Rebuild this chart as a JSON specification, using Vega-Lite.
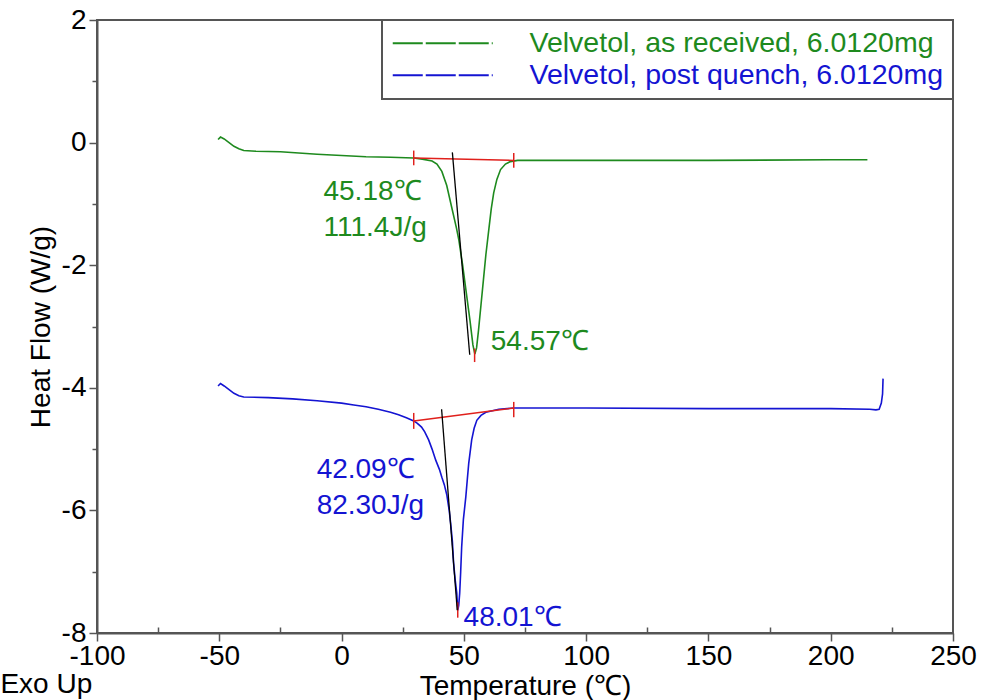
{
  "$schema": "https://vega.github.io/schema/vega-lite/v6.json",
  "width": 856,
  "height": 613,
  "autosize": "none",
  "padding": {"left": 97, "top": 20, "right": 28, "bottom": 67},
  "background": "white",
  "config": {
    "view": {"stroke": "#555555", "strokeWidth": 2},
    "font": "Liberation Sans",
    "legend": {"strokeWidth": 2},
    "axis": {
      "domainColor": "#555555", "domainWidth": 2, "tickColor": "#555555", "tickWidth": 1.5,
      "grid": false, "labelFont": "Liberation Sans", "labelFontSize": 28, "labelColor": "#000000",
      "titleFont": "Liberation Sans", "titleFontSize": 28, "titleFontWeight": "normal", "titleColor": "#000000"
    }
  },
  "datasets": {
    "curves": [
      {"series": "Velvetol, as received, 6.0120mg", "t": -50.5, "hf": 0.05},
      {"series": "Velvetol, as received, 6.0120mg", "t": -49.5, "hf": 0.09},
      {"series": "Velvetol, as received, 6.0120mg", "t": -48, "hf": 0.06},
      {"series": "Velvetol, as received, 6.0120mg", "t": -46, "hf": 0.0},
      {"series": "Velvetol, as received, 6.0120mg", "t": -44, "hf": -0.06},
      {"series": "Velvetol, as received, 6.0120mg", "t": -42, "hf": -0.1},
      {"series": "Velvetol, as received, 6.0120mg", "t": -40, "hf": -0.13},
      {"series": "Velvetol, as received, 6.0120mg", "t": -35, "hf": -0.14},
      {"series": "Velvetol, as received, 6.0120mg", "t": -25, "hf": -0.15},
      {"series": "Velvetol, as received, 6.0120mg", "t": -10, "hf": -0.19},
      {"series": "Velvetol, as received, 6.0120mg", "t": 0, "hf": -0.21},
      {"series": "Velvetol, as received, 6.0120mg", "t": 10, "hf": -0.23},
      {"series": "Velvetol, as received, 6.0120mg", "t": 20, "hf": -0.24},
      {"series": "Velvetol, as received, 6.0120mg", "t": 29.5, "hf": -0.25},
      {"series": "Velvetol, as received, 6.0120mg", "t": 33, "hf": -0.27},
      {"series": "Velvetol, as received, 6.0120mg", "t": 37, "hf": -0.3},
      {"series": "Velvetol, as received, 6.0120mg", "t": 39, "hf": -0.35},
      {"series": "Velvetol, as received, 6.0120mg", "t": 41, "hf": -0.47},
      {"series": "Velvetol, as received, 6.0120mg", "t": 43, "hf": -0.7},
      {"series": "Velvetol, as received, 6.0120mg", "t": 45, "hf": -1.05},
      {"series": "Velvetol, as received, 6.0120mg", "t": 47, "hf": -1.4},
      {"series": "Velvetol, as received, 6.0120mg", "t": 48, "hf": -1.6},
      {"series": "Velvetol, as received, 6.0120mg", "t": 49.5, "hf": -2.0},
      {"series": "Velvetol, as received, 6.0120mg", "t": 51, "hf": -2.45},
      {"series": "Velvetol, as received, 6.0120mg", "t": 52.5, "hf": -2.9},
      {"series": "Velvetol, as received, 6.0120mg", "t": 53.7, "hf": -3.3},
      {"series": "Velvetol, as received, 6.0120mg", "t": 54.5, "hf": -3.45},
      {"series": "Velvetol, as received, 6.0120mg", "t": 55.2, "hf": -3.35},
      {"series": "Velvetol, as received, 6.0120mg", "t": 56, "hf": -3.06},
      {"series": "Velvetol, as received, 6.0120mg", "t": 57, "hf": -2.65},
      {"series": "Velvetol, as received, 6.0120mg", "t": 58, "hf": -2.24},
      {"series": "Velvetol, as received, 6.0120mg", "t": 59, "hf": -1.83},
      {"series": "Velvetol, as received, 6.0120mg", "t": 60.2, "hf": -1.42},
      {"series": "Velvetol, as received, 6.0120mg", "t": 61.2, "hf": -1.08},
      {"series": "Velvetol, as received, 6.0120mg", "t": 62.2, "hf": -0.82},
      {"series": "Velvetol, as received, 6.0120mg", "t": 63.5, "hf": -0.6},
      {"series": "Velvetol, as received, 6.0120mg", "t": 65, "hf": -0.44},
      {"series": "Velvetol, as received, 6.0120mg", "t": 67, "hf": -0.35},
      {"series": "Velvetol, as received, 6.0120mg", "t": 69, "hf": -0.31},
      {"series": "Velvetol, as received, 6.0120mg", "t": 72, "hf": -0.29},
      {"series": "Velvetol, as received, 6.0120mg", "t": 80, "hf": -0.29},
      {"series": "Velvetol, as received, 6.0120mg", "t": 100, "hf": -0.29},
      {"series": "Velvetol, as received, 6.0120mg", "t": 150, "hf": -0.29},
      {"series": "Velvetol, as received, 6.0120mg", "t": 200, "hf": -0.28},
      {"series": "Velvetol, as received, 6.0120mg", "t": 215, "hf": -0.28},
      {"series": "Velvetol, post quench, 6.0120mg", "t": -50.5, "hf": -3.97},
      {"series": "Velvetol, post quench, 6.0120mg", "t": -49.5, "hf": -3.93},
      {"series": "Velvetol, post quench, 6.0120mg", "t": -48, "hf": -3.97},
      {"series": "Velvetol, post quench, 6.0120mg", "t": -46, "hf": -4.03},
      {"series": "Velvetol, post quench, 6.0120mg", "t": -44, "hf": -4.09},
      {"series": "Velvetol, post quench, 6.0120mg", "t": -42, "hf": -4.13},
      {"series": "Velvetol, post quench, 6.0120mg", "t": -40, "hf": -4.15},
      {"series": "Velvetol, post quench, 6.0120mg", "t": -30, "hf": -4.16},
      {"series": "Velvetol, post quench, 6.0120mg", "t": -20, "hf": -4.18},
      {"series": "Velvetol, post quench, 6.0120mg", "t": -10, "hf": -4.21},
      {"series": "Velvetol, post quench, 6.0120mg", "t": 0, "hf": -4.25},
      {"series": "Velvetol, post quench, 6.0120mg", "t": 5, "hf": -4.28},
      {"series": "Velvetol, post quench, 6.0120mg", "t": 10, "hf": -4.31},
      {"series": "Velvetol, post quench, 6.0120mg", "t": 15, "hf": -4.35},
      {"series": "Velvetol, post quench, 6.0120mg", "t": 20, "hf": -4.4},
      {"series": "Velvetol, post quench, 6.0120mg", "t": 23.3, "hf": -4.44},
      {"series": "Velvetol, post quench, 6.0120mg", "t": 26.5, "hf": -4.49},
      {"series": "Velvetol, post quench, 6.0120mg", "t": 29.5, "hf": -4.54},
      {"series": "Velvetol, post quench, 6.0120mg", "t": 31, "hf": -4.58},
      {"series": "Velvetol, post quench, 6.0120mg", "t": 32.7, "hf": -4.64},
      {"series": "Velvetol, post quench, 6.0120mg", "t": 34, "hf": -4.72},
      {"series": "Velvetol, post quench, 6.0120mg", "t": 35.6, "hf": -4.85},
      {"series": "Velvetol, post quench, 6.0120mg", "t": 37, "hf": -5.0},
      {"series": "Velvetol, post quench, 6.0120mg", "t": 38.5, "hf": -5.18},
      {"series": "Velvetol, post quench, 6.0120mg", "t": 40, "hf": -5.33},
      {"series": "Velvetol, post quench, 6.0120mg", "t": 41, "hf": -5.46},
      {"series": "Velvetol, post quench, 6.0120mg", "t": 42, "hf": -5.58},
      {"series": "Velvetol, post quench, 6.0120mg", "t": 43, "hf": -5.74},
      {"series": "Velvetol, post quench, 6.0120mg", "t": 44, "hf": -6.0},
      {"series": "Velvetol, post quench, 6.0120mg", "t": 44.6, "hf": -6.21},
      {"series": "Velvetol, post quench, 6.0120mg", "t": 45.3, "hf": -6.5},
      {"series": "Velvetol, post quench, 6.0120mg", "t": 45.8, "hf": -6.86},
      {"series": "Velvetol, post quench, 6.0120mg", "t": 46.5, "hf": -7.15},
      {"series": "Velvetol, post quench, 6.0120mg", "t": 47.1, "hf": -7.35},
      {"series": "Velvetol, post quench, 6.0120mg", "t": 47.5, "hf": -7.63},
      {"series": "Velvetol, post quench, 6.0120mg", "t": 47.9, "hf": -7.55},
      {"series": "Velvetol, post quench, 6.0120mg", "t": 48.3, "hf": -7.35},
      {"series": "Velvetol, post quench, 6.0120mg", "t": 48.7, "hf": -7.0},
      {"series": "Velvetol, post quench, 6.0120mg", "t": 49.1, "hf": -6.6},
      {"series": "Velvetol, post quench, 6.0120mg", "t": 49.8, "hf": -6.15},
      {"series": "Velvetol, post quench, 6.0120mg", "t": 50.8, "hf": -5.78},
      {"series": "Velvetol, post quench, 6.0120mg", "t": 51.4, "hf": -5.5},
      {"series": "Velvetol, post quench, 6.0120mg", "t": 52, "hf": -5.23},
      {"series": "Velvetol, post quench, 6.0120mg", "t": 53.2, "hf": -4.85},
      {"series": "Velvetol, post quench, 6.0120mg", "t": 54.2, "hf": -4.66},
      {"series": "Velvetol, post quench, 6.0120mg", "t": 55.3, "hf": -4.53},
      {"series": "Velvetol, post quench, 6.0120mg", "t": 57, "hf": -4.45},
      {"series": "Velvetol, post quench, 6.0120mg", "t": 59, "hf": -4.4},
      {"series": "Velvetol, post quench, 6.0120mg", "t": 64.3, "hf": -4.35},
      {"series": "Velvetol, post quench, 6.0120mg", "t": 70.4, "hf": -4.33},
      {"series": "Velvetol, post quench, 6.0120mg", "t": 100, "hf": -4.33},
      {"series": "Velvetol, post quench, 6.0120mg", "t": 150, "hf": -4.34},
      {"series": "Velvetol, post quench, 6.0120mg", "t": 200, "hf": -4.34},
      {"series": "Velvetol, post quench, 6.0120mg", "t": 216, "hf": -4.35},
      {"series": "Velvetol, post quench, 6.0120mg", "t": 218.5, "hf": -4.36},
      {"series": "Velvetol, post quench, 6.0120mg", "t": 219.8, "hf": -4.35},
      {"series": "Velvetol, post quench, 6.0120mg", "t": 220.7, "hf": -4.25},
      {"series": "Velvetol, post quench, 6.0120mg", "t": 221.2, "hf": -4.1},
      {"series": "Velvetol, post quench, 6.0120mg", "t": 221.4, "hf": -3.85}
    ],
    "segs": [
      {"kind": "baseline", "t": 29.5, "hf": -0.25, "t2": 70.4, "hf2": -0.29},
      {"kind": "baseline", "t": 29.5, "hf": -0.13, "t2": 29.5, "hf2": -0.37},
      {"kind": "baseline", "t": 70.4, "hf": -0.17, "t2": 70.4, "hf2": -0.41},
      {"kind": "baseline", "t": 54.4, "hf": -3.36, "t2": 54.4, "hf2": -3.58},
      {"kind": "tangent", "t": 45.3, "hf": -0.16, "t2": 52.4, "hf2": -3.46},
      {"kind": "baseline", "t": 29.5, "hf": -4.54, "t2": 70.4, "hf2": -4.33},
      {"kind": "baseline", "t": 29.5, "hf": -4.41, "t2": 29.5, "hf2": -4.67},
      {"kind": "baseline", "t": 70.4, "hf": -4.23, "t2": 70.4, "hf2": -4.48},
      {"kind": "baseline", "t": 47.5, "hf": -7.5, "t2": 47.5, "hf2": -7.75},
      {"kind": "tangent", "t": 40.9, "hf": -4.35, "t2": 47.3, "hf2": -7.63}
    ],
    "notes": [
      {"series": "Velvetol, as received, 6.0120mg", "t": -7.4, "hf": -0.8, "text": "45.18℃"},
      {"series": "Velvetol, as received, 6.0120mg", "t": -7.4, "hf": -1.39, "text": "111.4J/g"},
      {"series": "Velvetol, as received, 6.0120mg", "t": 61.0, "hf": -3.25, "text": "54.57℃"},
      {"series": "Velvetol, post quench, 6.0120mg", "t": -10.2, "hf": -5.34, "text": "42.09℃"},
      {"series": "Velvetol, post quench, 6.0120mg", "t": -10.2, "hf": -5.93, "text": "82.30J/g"},
      {"series": "Velvetol, post quench, 6.0120mg", "t": 49.9, "hf": -7.75, "text": "48.01℃"}
    ],
    "corner": [
      {"t": -139.5, "hf": -8.85, "text": "Exo Up"}
    ]
  },
  "layer": [
    {
      "data": {"name": "curves"},
      "mark": {"type": "line", "strokeWidth": 1.6, "clip": true},
      "encoding": {
        "x": {
          "field": "t", "type": "quantitative",
          "scale": {"domain": [-100, 250], "nice": false, "zero": false},
          "axis": {
            "title": "Temperature (℃)",
            "values": [-100, -75, -50, -25, 0, 25, 50, 75, 100, 125, 150, 175, 200, 225, 250],
            "labelExpr": "datum.value % 50 == 0 ? '' + datum.value : ''",
            "tickSize": {"condition": {"test": "datum.value % 50 != 0", "value": -6}, "value": 8},
            "labelPadding": 1, "titlePadding": 2, "labelFlush": false, "labelOverlap": false
          }
        },
        "y": {
          "field": "hf", "type": "quantitative",
          "scale": {"domain": [-8, 2], "nice": false, "zero": false},
          "axis": {
            "title": "Heat Flow (W/g)",
            "values": [-8, -7, -6, -5, -4, -3, -2, -1, 0, 1, 2],
            "labelExpr": "datum.value % 2 == 0 ? '' + datum.value : ''",
            "tickSize": {"condition": {"test": "datum.value % 2 != 0", "value": 5}, "value": 8},
            "labelPadding": 3, "titlePadding": 6, "labelFlush": false, "labelOverlap": false
          }
        },
        "color": {
          "field": "series", "type": "nominal",
          "scale": {
            "domain": ["Velvetol, as received, 6.0120mg", "Velvetol, post quench, 6.0120mg"],
            "range": ["#1e8a1e", "#1414d2"]
          },
          "legend": {
            "title": null, "orient": "top-right", "offset": 0, "padding": 9,
            "strokeColor": "#555555", "fillColor": "#ffffff",
            "symbolType": "M-5,0H5", "symbolSize": 400, "symbolStrokeWidth": 2,
            "symbolDash": [30, 3], "symbolOffset": 37.5,
            "labelFont": "Liberation Sans", "labelFontSize": 28.5, "labelOffset": 72.5,
            "labelLimit": 600, "rowPadding": 3,
            "encode": {
              "labels": {"update": {"fill": {"signal": "datum.label === 'Velvetol, as received, 6.0120mg' ? '#1e8a1e' : '#1414d2'"}}}
            }
          }
        }
      }
    },
    {
      "data": {"name": "segs"},
      "transform": [{"filter": "datum.kind === 'baseline'"}],
      "mark": {"type": "rule", "color": "#e0201c", "strokeWidth": 1.5},
      "encoding": {
        "x": {"field": "t", "type": "quantitative"},
        "y": {"field": "hf", "type": "quantitative"},
        "x2": {"field": "t2"},
        "y2": {"field": "hf2"}
      }
    },
    {
      "data": {"name": "segs"},
      "transform": [{"filter": "datum.kind === 'tangent'"}],
      "mark": {"type": "rule", "color": "#000000", "strokeWidth": 1.3},
      "encoding": {
        "x": {"field": "t", "type": "quantitative"},
        "y": {"field": "hf", "type": "quantitative"},
        "x2": {"field": "t2"},
        "y2": {"field": "hf2"}
      }
    },
    {
      "data": {"name": "notes"},
      "transform": [{"filter": "datum.series === 'Velvetol, as received, 6.0120mg'"}],
      "mark": {"type": "text", "align": "left", "baseline": "middle", "fontSize": 28, "font": "Liberation Sans", "color": "#1e8a1e"},
      "encoding": {
        "x": {"field": "t", "type": "quantitative"},
        "y": {"field": "hf", "type": "quantitative"},
        "text": {"field": "text"}
      }
    },
    {
      "data": {"name": "notes"},
      "transform": [{"filter": "datum.series === 'Velvetol, post quench, 6.0120mg'"}],
      "mark": {"type": "text", "align": "left", "baseline": "middle", "fontSize": 28, "font": "Liberation Sans", "color": "#1414d2"},
      "encoding": {
        "x": {"field": "t", "type": "quantitative"},
        "y": {"field": "hf", "type": "quantitative"},
        "text": {"field": "text"}
      }
    },
    {
      "data": {"name": "corner"},
      "mark": {"type": "text", "align": "left", "baseline": "middle", "fontSize": 28, "font": "Liberation Sans", "color": "#000000"},
      "encoding": {
        "x": {"field": "t", "type": "quantitative"},
        "y": {"field": "hf", "type": "quantitative"},
        "text": {"field": "text"}
      }
    }
  ]
}
